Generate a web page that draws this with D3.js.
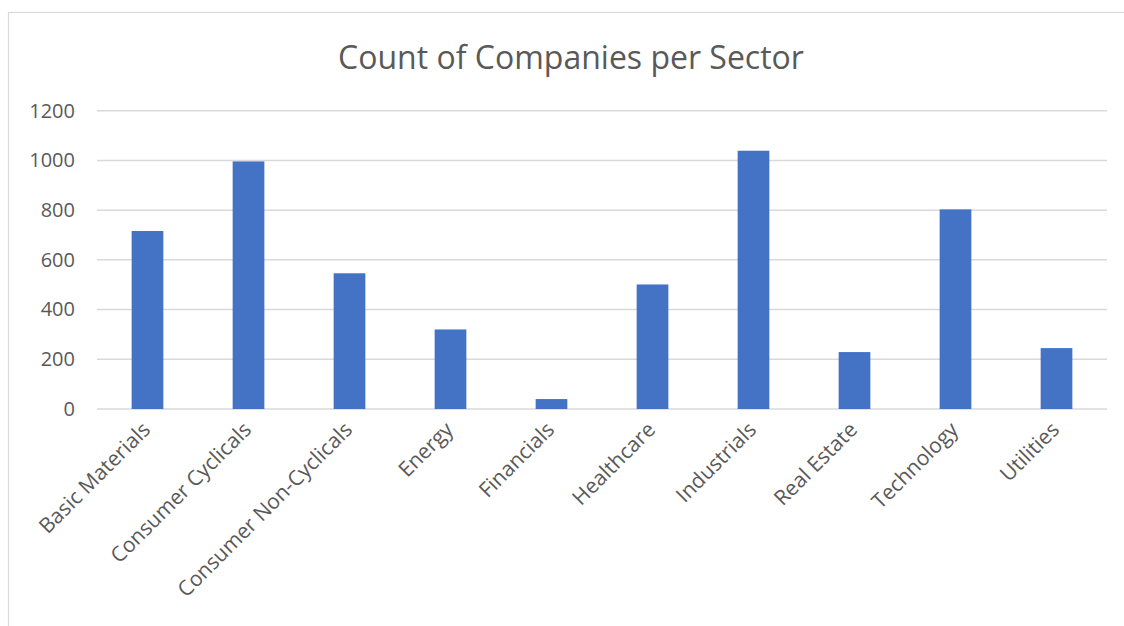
<!DOCTYPE html>
<html>
<head>
<meta charset="utf-8">
<script src="https://cdn.jsdelivr.net/npm/d3@7"></script>
<style>
  html, body { margin: 0; padding: 0; background: #fff; }
  svg { display: block; }
  text { font-family: "Open Sans", "Noto Sans", sans-serif; fill: #595959; }
</style>
</head>
<body>
<svg id="chart" width="1124" height="626"></svg>
<script>
// Sector names along the x axis
const sectors = [
  "Basic Materials", "Consumer Cyclicals", "Consumer Non-Cyclicals", "Energy",
  "Financials", "Healthcare", "Industrials", "Real Estate", "Technology", "Utilities"
];
// Number of companies in each sector
const companyCounts = [716, 996, 546, 320, 40, 501, 1039, 229, 803, 245];
// Value axis ticks
const yTicks = [0, 200, 400, 600, 800, 1000, 1200];

const W = 1124, H = 626;
const plot = { left: 97, right: 1107, top: 110.7, bottom: 409 };

const svg = d3.select("#chart");

// Chart-area frame (top and left edges visible)
svg.append("rect")
  .attr("x", 8.5).attr("y", 12.5)
  .attr("width", W + 20).attr("height", H + 20)
  .attr("fill", "none").attr("stroke", "#d9d9d9").attr("stroke-width", 1.2);

svg.append("text")
  .attr("x", 571).attr("y", 69)
  .attr("text-anchor", "middle")
  .attr("font-size", 32)
  .text("Count of Companies per Sector");

const x = d3.scaleBand()
  .domain(sectors)
  .range([plot.left, plot.right])
  .paddingInner(0.686)
  .paddingOuter(0.343);

const y = d3.scaleLinear()
  .domain([0, 1200])
  .range([plot.bottom, plot.top]);

// Horizontal gridlines
svg.append("g")
  .selectAll("line")
  .data(yTicks)
  .join("line")
  .attr("x1", plot.left).attr("x2", plot.right)
  .attr("y1", d => y(d)).attr("y2", d => y(d))
  .attr("stroke", "#d9d9d9").attr("stroke-width", 1.5);

// Value axis labels
const yAxis = d3.axisLeft(y).tickValues(yTicks).tickFormat(d3.format("d"))
  .tickSize(0).tickPadding(0);
const yg = svg.append("g")
  .attr("transform", `translate(${plot.left - 22},0)`)
  .call(yAxis);
yg.select(".domain").remove();
yg.selectAll("text")
  .attr("font-size", 20)
  .attr("fill", "#595959")
  .attr("font-family", "\"Open Sans\", sans-serif");

// Bars
svg.append("g")
  .selectAll("rect")
  .data(sectors)
  .join("rect")
  .attr("x", d => x(d))
  .attr("width", x.bandwidth())
  .attr("y", (d, i) => y(companyCounts[i]))
  .attr("height", (d, i) => y(0) - y(companyCounts[i]))
  .attr("fill", "#4472c4");

// Category labels, rotated 45 degrees
const xAxis = d3.axisBottom(x).tickSize(0).tickPadding(0);
const xg = svg.append("g")
  .attr("transform", `translate(0,${plot.bottom})`)
  .call(xAxis);
xg.select(".domain").remove();
xg.selectAll("text")
  .attr("font-size", 21)
  .attr("fill", "#595959")
  .attr("font-family", "\"Open Sans\", sans-serif")
  .attr("text-anchor", "end")
  .attr("dy", "0")
  .attr("transform", "translate(4,22) rotate(-45)");
</script>
</body>
</html>
